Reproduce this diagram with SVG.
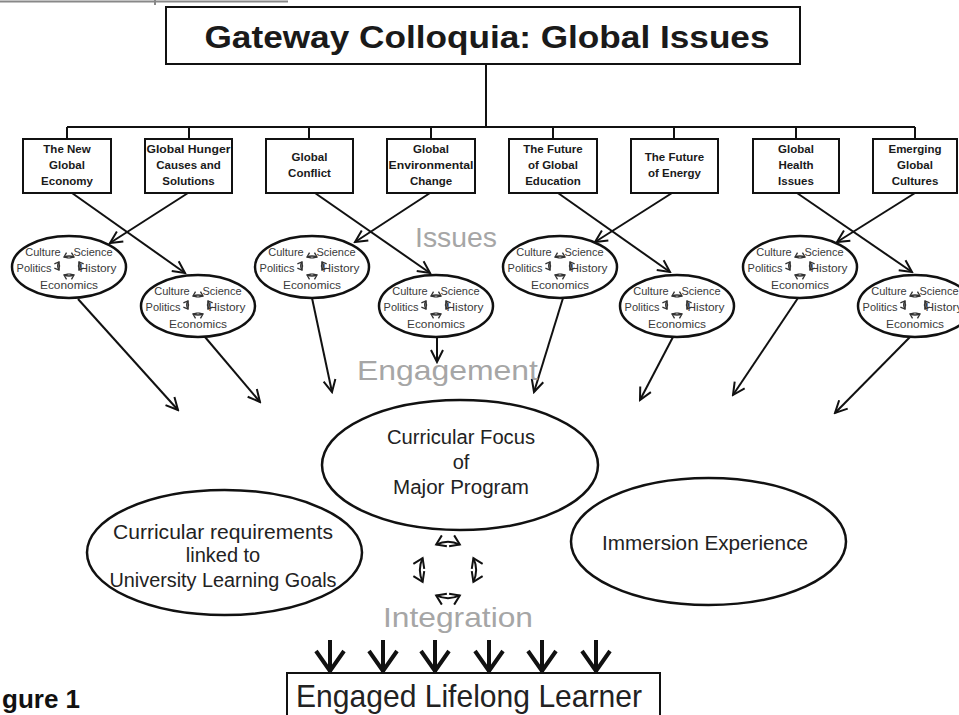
<svg xmlns="http://www.w3.org/2000/svg" xmlns:xlink="http://www.w3.org/1999/xlink" width="959" height="715" viewBox="0 0 959 715">
<style>
.box{fill:#fff;stroke:#111;stroke-width:2}
.bt{font-family:"Liberation Sans",Arial,sans-serif;font-weight:bold;font-size:11.5px;fill:#1a1a1a;text-anchor:middle}
.el{fill:#fff;stroke:#111;stroke-width:2.5}
.st{font-family:"Liberation Sans",Arial,sans-serif;font-size:11px;fill:#3a3a3a;text-anchor:middle}
.big{font-family:"Liberation Sans",Arial,sans-serif;font-size:20px;fill:#222;text-anchor:middle}
.lab{font-family:"Liberation Sans",Arial,sans-serif;font-size:28px;fill:#a6a6a6;text-anchor:start}
.ln{fill:none;stroke:#111;stroke-width:2}
.arr{fill:none;stroke:#111;stroke-width:2;marker-end:url(#ah)}
.thick{fill:none;stroke:#111;stroke-width:4;stroke-linejoin:miter}
</style>
<defs>
<marker id="ah" viewBox="-14 -8 16 16" refX="0" refY="0" markerWidth="16" markerHeight="16" markerUnits="userSpaceOnUse" orient="auto">
<path d="M-12,-6 L0,0 L-12,6" fill="none" stroke="#111" stroke-width="2"/>
</marker>
<marker id="ch" viewBox="-11 -7 13 14" refX="0" refY="0" markerWidth="13" markerHeight="14" markerUnits="userSpaceOnUse" orient="auto-start-reverse">
<path d="M-9,-6 L0,0 L-9,6" fill="none" stroke="#111" stroke-width="2"/>
</marker>
<marker id="mh" viewBox="-5 -4 6 8" refX="0" refY="0" markerWidth="6" markerHeight="8" markerUnits="userSpaceOnUse" orient="auto-start-reverse">
<path d="M-4,-3 L0,0 L-4,3" fill="none" stroke="#333" stroke-width="1.3"/>
</marker>
<g id="mini" fill="none" stroke="#333" stroke-width="1.5" marker-start="url(#mh)" marker-end="url(#mh)">
<path d="M-5,-9 A11,9 0 0 1 5,-9"/>
<path d="M10,-4 A11,9 0 0 1 10,4"/>
<path d="M5,9 A11,9 0 0 1 -5,9"/>
<path d="M-10,4 A11,9 0 0 1 -10,-4"/>
</g>
</defs>
<rect width="959" height="715" fill="#fff"/>

<g id="topline">
<line x1="0" y1="1.5" x2="288" y2="1.5" stroke="#888" stroke-width="2"/>
<line x1="155" y1="0" x2="155" y2="5" stroke="#888" stroke-width="2"/>
</g>

<g id="connectors">
<path class="ln" d="M486,64 V127 M67,127 H915 M67,127 V139 M189,127 V139 M309,127 V139 M431,127 V139 M553,127 V139 M674,127 V139 M796,127 V139 M915,127 V139"/>
<path class="arr" d="M72,193 L185,273"/>
<path class="arr" d="M188,193 L110,243"/>
<path class="arr" d="M315,193 L430,273"/>
<path class="arr" d="M430,193 L355,242"/>
<path class="arr" d="M558,193 L670,272"/>
<path class="arr" d="M672,193 L595,242"/>
<path class="arr" d="M797,193 L912,272"/>
<path class="arr" d="M915,193 L837,242"/>
<path class="arr" d="M78,299 L178,410"/>
<path class="arr" d="M205,337 L260,402"/>
<path class="arr" d="M312,298 L332,392"/>
<path class="arr" d="M437,337 L437,362"/>
<path class="arr" d="M563,298 L534,392"/>
<path class="arr" d="M673,337 L640,400"/>
<path class="arr" d="M798,298 L733,395"/>
<path class="arr" d="M910,337 L835,413"/>
<path class="thick" d="M330,640 V673 M316,651 L330,671 L344,651"/>
<path class="thick" d="M383,640 V673 M369,651 L383,671 L397,651"/>
<path class="thick" d="M435,640 V673 M421,651 L435,671 L449,651"/>
<path class="thick" d="M489,640 V673 M475,651 L489,671 L503,651"/>
<path class="thick" d="M542,640 V673 M528,651 L542,671 L556,651"/>
<path class="thick" d="M596,640 V673 M582,651 L596,671 L610,651"/>
</g>

<g id="title">
<rect class="box" x="166" y="7" width="634" height="57"/>
<text x="487" y="48" font-family="'Liberation Sans',Arial,sans-serif" font-weight="bold" font-size="32" fill="#1a1a1a" text-anchor="middle" textLength="565" lengthAdjust="spacingAndGlyphs">Gateway Colloquia:  Global Issues</text>
</g>

<g id="box1"><rect class="box" x="23" y="139" width="88" height="54"/>
<text class="bt" x="67" y="153">The New</text><text class="bt" x="67" y="169">Global</text><text class="bt" x="67" y="185">Economy</text></g>
<g id="box2"><rect class="box" x="145" y="139" width="87" height="54"/>
<text class="bt" x="188.5" y="153" textLength="84" lengthAdjust="spacingAndGlyphs">Global Hunger</text><text class="bt" x="188.5" y="169">Causes and</text><text class="bt" x="188.5" y="185">Solutions</text></g>
<g id="box3"><rect class="box" x="266" y="139" width="87" height="54"/>
<text class="bt" x="309.5" y="161">Global</text><text class="bt" x="309.5" y="177">Conflict</text></g>
<g id="box4"><rect class="box" x="387" y="139" width="88" height="54"/>
<text class="bt" x="431" y="153">Global</text><text class="bt" x="431" y="169" textLength="85" lengthAdjust="spacingAndGlyphs">Environmental</text><text class="bt" x="431" y="185">Change</text></g>
<g id="box5"><rect class="box" x="509" y="139" width="88" height="54"/>
<text class="bt" x="553" y="153">The Future</text><text class="bt" x="553" y="169">of Global</text><text class="bt" x="553" y="185">Education</text></g>
<g id="box6"><rect class="box" x="631" y="139" width="87" height="54"/>
<text class="bt" x="674.5" y="161">The Future</text><text class="bt" x="674.5" y="177">of Energy</text></g>
<g id="box7"><rect class="box" x="753" y="139" width="86" height="54"/>
<text class="bt" x="796" y="153">Global</text><text class="bt" x="796" y="169">Health</text><text class="bt" x="796" y="185">Issues</text></g>
<g id="box8"><rect class="box" x="873" y="139" width="84" height="54"/>
<text class="bt" x="915" y="153">Emerging</text><text class="bt" x="915" y="169">Global</text><text class="bt" x="915" y="185">Cultures</text></g>

<g id="disc1" transform="translate(69,267)"><ellipse class="el" rx="57" ry="31"/><use xlink:href="#mini" href="#mini" y="-1"/>
<text class="st" x="-26" y="-11">Culture</text><text class="st" x="24" y="-11">Science</text><text class="st" x="-35" y="5">Politics</text><text class="st" x="29" y="5" textLength="37" lengthAdjust="spacingAndGlyphs">History</text><text class="st" x="0" y="22" textLength="58" lengthAdjust="spacingAndGlyphs">Economics</text></g>
<g id="disc2" transform="translate(198,306)"><ellipse class="el" rx="57" ry="31"/><use xlink:href="#mini" href="#mini" y="-1"/>
<text class="st" x="-26" y="-11">Culture</text><text class="st" x="24" y="-11">Science</text><text class="st" x="-35" y="5">Politics</text><text class="st" x="29" y="5" textLength="37" lengthAdjust="spacingAndGlyphs">History</text><text class="st" x="0" y="22" textLength="58" lengthAdjust="spacingAndGlyphs">Economics</text></g>
<g id="disc3" transform="translate(312,267)"><ellipse class="el" rx="57" ry="31"/><use xlink:href="#mini" href="#mini" y="-1"/>
<text class="st" x="-26" y="-11">Culture</text><text class="st" x="24" y="-11">Science</text><text class="st" x="-35" y="5">Politics</text><text class="st" x="29" y="5" textLength="37" lengthAdjust="spacingAndGlyphs">History</text><text class="st" x="0" y="22" textLength="58" lengthAdjust="spacingAndGlyphs">Economics</text></g>
<g id="disc4" transform="translate(436,306)"><ellipse class="el" rx="57" ry="31"/><use xlink:href="#mini" href="#mini" y="-1"/>
<text class="st" x="-26" y="-11">Culture</text><text class="st" x="24" y="-11">Science</text><text class="st" x="-35" y="5">Politics</text><text class="st" x="29" y="5" textLength="37" lengthAdjust="spacingAndGlyphs">History</text><text class="st" x="0" y="22" textLength="58" lengthAdjust="spacingAndGlyphs">Economics</text></g>
<g id="disc5" transform="translate(560,267)"><ellipse class="el" rx="57" ry="31"/><use xlink:href="#mini" href="#mini" y="-1"/>
<text class="st" x="-26" y="-11">Culture</text><text class="st" x="24" y="-11">Science</text><text class="st" x="-35" y="5">Politics</text><text class="st" x="29" y="5" textLength="37" lengthAdjust="spacingAndGlyphs">History</text><text class="st" x="0" y="22" textLength="58" lengthAdjust="spacingAndGlyphs">Economics</text></g>
<g id="disc6" transform="translate(677,306)"><ellipse class="el" rx="57" ry="31"/><use xlink:href="#mini" href="#mini" y="-1"/>
<text class="st" x="-26" y="-11">Culture</text><text class="st" x="24" y="-11">Science</text><text class="st" x="-35" y="5">Politics</text><text class="st" x="29" y="5" textLength="37" lengthAdjust="spacingAndGlyphs">History</text><text class="st" x="0" y="22" textLength="58" lengthAdjust="spacingAndGlyphs">Economics</text></g>
<g id="disc7" transform="translate(800,267)"><ellipse class="el" rx="57" ry="31"/><use xlink:href="#mini" href="#mini" y="-1"/>
<text class="st" x="-26" y="-11">Culture</text><text class="st" x="24" y="-11">Science</text><text class="st" x="-35" y="5">Politics</text><text class="st" x="29" y="5" textLength="37" lengthAdjust="spacingAndGlyphs">History</text><text class="st" x="0" y="22" textLength="58" lengthAdjust="spacingAndGlyphs">Economics</text></g>
<g id="disc8" transform="translate(915,306)"><ellipse class="el" rx="57" ry="31"/><use xlink:href="#mini" href="#mini" y="-1"/>
<text class="st" x="-26" y="-11">Culture</text><text class="st" x="24" y="-11">Science</text><text class="st" x="-35" y="5">Politics</text><text class="st" x="29" y="5" textLength="37" lengthAdjust="spacingAndGlyphs">History</text><text class="st" x="0" y="22" textLength="58" lengthAdjust="spacingAndGlyphs">Economics</text></g>

<g id="labels">
<text class="lab" x="415" y="247" textLength="82" lengthAdjust="spacingAndGlyphs">Issues</text>
<text class="lab" x="357" y="380" textLength="181" lengthAdjust="spacingAndGlyphs">Engagement</text>
<text class="lab" x="383" y="627" textLength="150" lengthAdjust="spacingAndGlyphs">Integration</text>
</g>

<g id="focus"><ellipse class="el" cx="460" cy="465" rx="138" ry="65"/>
<text class="big" x="461" y="444" textLength="148" lengthAdjust="spacingAndGlyphs">Curricular Focus</text>
<text class="big" x="461" y="469">of</text>
<text class="big" x="461" y="494" textLength="136" lengthAdjust="spacingAndGlyphs">Major Program</text></g>

<g id="requirements"><ellipse class="el" cx="224.5" cy="552.5" rx="137.5" ry="62.5"/>
<text class="big" x="223" y="539" textLength="220" lengthAdjust="spacingAndGlyphs">Curricular  requirements</text>
<text class="big" x="223" y="562">linked to</text>
<text class="big" x="223" y="587" textLength="227" lengthAdjust="spacingAndGlyphs">University Learning Goals</text></g>

<g id="immersion"><ellipse class="el" cx="708.5" cy="541.5" rx="137.5" ry="63.5"/>
<text class="big" x="705" y="550" textLength="206" lengthAdjust="spacingAndGlyphs">Immersion Experience</text></g>

<g id="cycle" fill="none" stroke="#111" stroke-width="2" marker-start="url(#ch)" marker-end="url(#ch)">
<path d="M436.2,544.6 A28,28 0 0 1 459.8,544.6"/>
<path d="M473.4,558.2 A28,28 0 0 1 473.4,581.8"/>
<path d="M459.8,595.4 A28,28 0 0 1 436.2,595.4"/>
<path d="M422.6,581.8 A28,28 0 0 1 422.6,558.2"/>
</g>

<g id="learner"><rect x="287" y="673" width="373" height="60" fill="#fff" stroke="#111" stroke-width="2"/>
<text x="469" y="707" font-family="'Liberation Sans',Arial,sans-serif" font-size="32" fill="#222" text-anchor="middle" textLength="346" lengthAdjust="spacingAndGlyphs">Engaged Lifelong Learner</text></g>

<g id="figlabel"><text x="2" y="708" font-family="'Liberation Sans',Arial,sans-serif" font-weight="bold" font-size="26" fill="#111">gure 1</text></g>
</svg>
